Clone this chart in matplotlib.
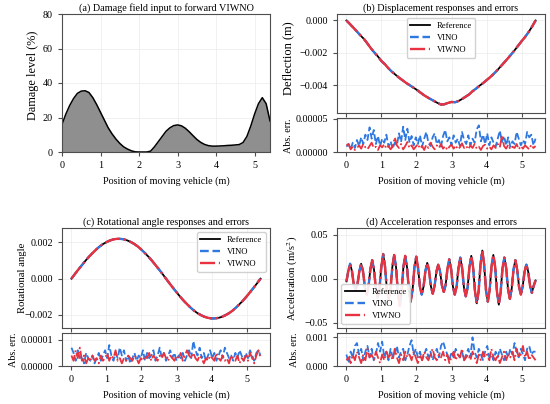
import numpy as np
import matplotlib
matplotlib.use("Agg")
import matplotlib.pyplot as plt
from matplotlib.ticker import FuncFormatter

plt.rcParams['font.family'] = ['Liberation Serif', 'DejaVu Serif']
plt.rcParams['mathtext.fontset'] = 'stix'
plt.rcParams['font.size'] = 7.3
plt.rcParams['axes.titlesize'] = 7.3
plt.rcParams['axes.edgecolor'] = '#4d4d4d'
plt.rcParams['xtick.color'] = '#4d4d4d'
plt.rcParams['ytick.color'] = '#4d4d4d'
plt.rcParams['xtick.labelcolor'] = 'black'
plt.rcParams['ytick.labelcolor'] = 'black'
plt.rcParams['xtick.major.size'] = 3
plt.rcParams['ytick.major.size'] = 3

# ---------------- data ----------------
# (a) damage field, x step 0.1 m from 0 to 5.4
damage_pos = [round(0.1 * i, 1) for i in range(55)]
damage_level = [16, 22, 27, 31, 34, 35.3, 35.5, 34.5, 31.5, 27.5, 23, 18.5, 14, 10.5, 7.5, 5, 3, 1.7, 0.7, 0.1,
                0, 0, 0, 0.5, 3, 6, 9, 12, 14, 15.3, 15.7, 15.2, 13.8, 11.8, 9.5, 7.3, 5.6, 4.4, 3.7, 3.4,
                3.4, 3.5, 3.6, 3.8, 3.9, 4.1, 4.3, 5.5, 9, 15, 22, 28, 31.5, 28, 18]

# (b) deflection (mm -> m), x step 0.1 m
resp_pos = [round(0.1 * i, 1) for i in range(55)]
defl_ref_mm = [0, -0.22, -0.45, -0.68, -0.92, -1.14, -1.42, -1.72, -1.98, -2.22, -2.50, -2.70, -2.95, -3.16,
               -3.34, -3.52, -3.68, -3.84, -3.98, -4.12, -4.26, -4.42, -4.58, -4.72, -4.84, -4.96, -5.08,
               -5.18, -5.16, -5.08, -5.02, -5.04, -4.96, -4.84, -4.70, -4.56, -4.36, -4.20, -4.02, -3.86,
               -3.68, -3.50, -3.30, -3.08, -2.84, -2.60, -2.36, -2.10, -1.84, -1.56, -1.28, -1.02, -0.72,
               -0.38, 0.0]
defl_vino_mm = defl_ref_mm
defl_viwno_mm = defl_ref_mm

# (c) rotational angle (x1e-3)
rot_ref_m = [0, 0.26, 0.51, 0.75, 0.99, 1.21, 1.41, 1.60, 1.77, 1.91, 2.02, 2.11, 2.17, 2.20,
             2.20, 2.17, 2.11, 2.02, 1.91, 1.77, 1.60, 1.41, 1.21, 0.99, 0.75, 0.51, 0.26, 0.0,
             -0.26, -0.51, -0.75, -0.99, -1.21, -1.41, -1.60, -1.77, -1.91, -2.02, -2.11, -2.17, -2.20,
             -2.20, -2.17, -2.11, -2.02, -1.91, -1.77, -1.60, -1.41, -1.21, -0.99, -0.75, -0.51, -0.26, 0.0]
rot_vino_m = rot_ref_m
rot_viwno_m = rot_ref_m

# (d) acceleration (m/s^2), 104 samples over 0..5.4 m
acc_ref = [-0.003, 0.0085,
           0.017, 0.0085, -0.0065, -0.013, -0.0065, 0.0085,
           0.017, 0.0085, -0.009, -0.018, -0.009, 0.0105,
           0.021, 0.0105, -0.0105, -0.021, -0.0105, 0.014,
           0.028, 0.014, -0.012, -0.024, -0.012, 0.0135,
           0.027, 0.0135, -0.0155, -0.031, -0.0155, 0.013,
           0.026, 0.013, -0.013, -0.026, -0.013, 0.0125,
           0.025, 0.0125, -0.009, -0.018, -0.009, 0.009,
           0.018, 0.009, -0.0085, -0.017, -0.0085, 0.008,
           0.016, 0.008, -0.0075, -0.015, -0.0075, 0.011,
           0.022, 0.011, -0.009, -0.018, -0.009, 0.012,
           0.024, 0.012, -0.010, -0.020, -0.010, 0.013,
           0.026, 0.013, -0.014, -0.028, -0.014, 0.016,
           0.032, 0.016, -0.013, -0.026, -0.013, 0.0135,
           0.027, 0.0135, -0.015, -0.0295, -0.015, 0.012,
           0.024, 0.012, -0.0115, -0.023, -0.0115, 0.0105,
           0.021, 0.0105, -0.009, -0.018, -0.009, 0.008,
           0.016, 0.008, -0.008, -0.016, -0.008, -0.002]
acc_vino = acc_ref
acc_viwno = acc_ref

# absolute errors
defl_err_vino_um = [8, 12, 4, 14, 6, 18, 9, 22, 12, 26, 18, 37, 20, 33, 12, 24, 9, 20, 14, 26, 8, 16, 5, 14, 10,
                    28, 15, 38, 18, 35, 14, 24, 10, 22, 12, 25, 8, 20, 30, 14, 9, 22, 28, 12, 18, 8, 24, 33, 16,
                    22, 10, 25, 14, 20, 9, 30, 18, 12, 25, 10, 20, 14, 34, 40, 16, 26, 12, 28, 10, 22, 14, 8, 20,
                    32, 15, 24, 10, 22, 8, 16, 12, 30, 20, 10, 18, 12, 30, 22, 26, 10, 20]
defl_err_viwno_um = [10, 12, 4, 8, 3, 6, 10, 5, 12, 7, 4, 9, 14, 6, 8, 3, 10, 7, 12, 5, 9, 4, 8, 22, 10, 6, 12, 4,
                     9, 15, 6, 10, 4, 8, 12, 5, 9, 3, 11, 6, 14, 8, 4, 10, 6, 12, 5, 9, 3, 8, 11, 5, 10, 4, 7, 13,
                     6, 9, 4, 10, 6, 12, 5, 8, 3, 9, 11, 5, 8, 4, 10, 6, 12, 7, 25, 9, 5, 11, 4, 8, 6, 12, 4, 9, 5,
                     10, 7, 4, 11, 6, 9]
rot_err_vino_u = [7, 5, 2, 6, 3, 4, 1, 5, 3, 2, 4, 1, 3, 5, 2, 4, 6, 3, 8, 4, 2, 5, 3, 7, 4, 6, 2, 4, 1, 3, 5, 2,
                  4, 3, 6, 2, 5, 3, 4, 6, 2, 4, 7, 3, 5, 2, 4, 6, 3, 5, 2, 4, 3, 5, 2, 4, 6, 3, 9.5, 6, 4, 7, 3,
                  5, 2, 4, 6, 3, 5, 2, 4, 6, 3, 7, 5, 3, 4, 2, 5, 3, 6, 4, 2, 5, 3, 6, 4, 2, 5, 6, 4]
rot_err_viwno_u = [4, 2, 6, 3, 7, 2, 4, 1, 3, 2, 4, 2, 3, 1, 4, 2, 3, 5, 2, 4, 3, 6, 2, 3, 1, 3, 2, 4, 3, 2, 4, 3,
                   1, 3, 2, 4, 3, 5, 2, 4, 3, 2, 4, 3, 5, 3, 2, 4, 3, 2, 4, 3, 5, 2, 4, 6, 4, 3, 5, 3, 2, 4, 3, 1,
                   3, 2, 4, 3, 2, 5, 3, 2, 4, 2, 3, 1, 4, 3, 2, 4, 1, 3, 2, 4, 2, 5, 3, 1, 4, 6, 3]
acc_err_vino_e4 = [4, 1, 5, 3, 7, 8, 4, 6, 2, 5, 7, 3, 6, 2, 4, 8, 5, 8.5, 3, 5, 2, 6, 3, 4, 7, 3, 5, 6, 2, 4, 7, 9,
                   4, 6, 3, 5, 2, 4, 6, 3, 5, 2, 4, 6, 3, 7, 8.5, 6, 4, 2, 5, 3, 6, 4, 3, 5, 2, 4, 6, 3, 10, 5, 3,
                   6, 4, 2, 5, 7, 3, 4, 2, 5, 3, 6, 4, 2, 5, 3, 6, 4, 8, 5, 3, 6, 4, 2, 6, 7, 4, 5, 5]
acc_err_viwno_e4 = [2, 3, 1, 4, 2, 5, 3, 1, 4, 2, 6, 3, 4, 2, 5, 3, 1, 4, 2, 5, 3, 4, 2, 6, 3, 1, 4, 2, 5, 3, 4, 2,
                    5, 3, 1, 4, 2, 5, 3, 2, 4, 6, 3, 2, 4, 3, 5, 2, 4, 1, 3, 5, 2, 4, 3, 6, 2, 3, 4, 2, 5, 3, 1, 4,
                    2, 5, 3, 4, 2, 6, 3, 2, 4, 1, 3, 5, 2, 4, 3, 5, 2, 6, 3, 4, 7, 3, 5, 2, 4, 3, 2]

xticks = [0, 1, 2, 3, 4, 5]
labels_legend = ['Reference', 'VINO', 'VIWNO']

# ---------------- styling ----------------
C_REF = 'black'
C_VINO = '#2f78e0'
C_VIWNO = '#e8323f'
GRID = dict(color='#ececec', lw=0.5)


def fmt(nd):
    return FuncFormatter(lambda v, p: (f"{v:.{nd}f}").replace('-', '\u2212') if abs(v) > 1e-12 else f"{0:.{nd}f}")


W, H = 550, 404
fig = plt.figure(figsize=(W / 100, H / 100), dpi=100)


def ax_px(l, t, r, b):
    return fig.add_axes([l / W, 1 - b / H, (r - l) / W, (b - t) / H])


# (a)
axa = ax_px(62, 14, 270, 152)
axa.fill_between(damage_pos, damage_level, 0, color='#8f8f8f', lw=0)
axa.plot(damage_pos, damage_level, color='black', lw=1.1)
axa.set_xlim(0, 5.4)
axa.set_ylim(0, 80)
axa.set_xticks(xticks)
axa.set_yticks([0, 20, 40, 60, 80])
axa.grid(True, **GRID)
axa.set_axisbelow(True)
axa.set_ylabel('Damage level (%)', fontsize=8.8)
axa.yaxis.set_label_coords(-0.11, 0.553)
axa.set_xlabel('Position of moving vehicle (m)')
axa.set_title('(a) Damage field input to forward VIWNO', pad=2)


def resp_panel(l, r, t, b, te, be, x, ref, vino, viwno, ex_v, ey_v, ex_w, ey_w,
               ylim, yticks, ynd, elim, eticks, end, ylabel, ylsize, ylc, elc, title, legloc):
    ax = ax_px(l, t, r, b)
    ae = ax_px(l, te, r, be)
    ax.plot(x, ref, color=C_REF, lw=1.3, label=labels_legend[0])
    ax.plot(x, vino, color=C_VINO, lw=1.7, ls='--', label=labels_legend[1])
    ax.plot(x, viwno, color=C_VIWNO, lw=1.7, ls='-.', label=labels_legend[2])
    ax.set_ylim(*ylim)
    ax.set_yticks(yticks)
    ax.yaxis.set_major_formatter(fmt(ynd))
    ax.set_xlim(-0.27, 5.67)
    ax.set_xticks(xticks)
    ax.tick_params(labelbottom=False)
    ax.grid(True, **GRID)
    ax.set_ylabel(ylabel, fontsize=ylsize)
    ax.yaxis.set_label_coords(*ylc)
    ax.set_title(title, pad=2)
    ax.legend(loc=legloc, fontsize=6.2, handlelength=2.3, framealpha=0.9,
              edgecolor='#cccccc', fancybox=True)

    ae.plot(ex_v, ey_v, color=C_VINO, lw=1.3, ls='--')
    ae.plot(ex_w, ey_w, color=C_VIWNO, lw=1.3, ls='-.')
    ae.set_xlim(-0.27, 5.67)
    ae.set_xticks(xticks)
    ae.set_ylim(*elim)
    ae.set_yticks(eticks)
    ae.yaxis.set_major_formatter(fmt(end))
    ae.grid(True, **GRID)
    ae.set_ylabel('Abs. err.')
    ae.yaxis.set_label_coords(*elc)
    ae.set_xlabel('Position of moving vehicle (m)')
    return ax, ae


def grid_x(vals):
    return np.linspace(0, 5.4, len(vals))


# (b)
resp_panel(337, 545, 14, 113, 118, 152, resp_pos, np.array(defl_ref_mm) * 1e-3,
           np.array(defl_vino_mm) * 1e-3, np.array(defl_viwno_mm) * 1e-3,
           grid_x(defl_err_vino_um), np.array(defl_err_vino_um) * 1e-6,
           grid_x(defl_err_viwno_um), np.array(defl_err_viwno_um) * 1e-6,
           (-0.0057, 0.0004), [-0.004, -0.002, 0.0], 3, (0, 5.1e-5), [0, 5e-5], 5,
           'Deflection (m)', 9.0, (-0.205, 0.558), (-0.21, 0.476),
           '(b) Displacement responses and errors', 'upper center')

# (c)
resp_panel(62, 270, 228, 328, 333, 366, resp_pos, np.array(rot_ref_m) * 1e-3,
           np.array(rot_vino_m) * 1e-3, np.array(rot_viwno_m) * 1e-3,
           grid_x(rot_err_vino_u), np.array(rot_err_vino_u) * 1e-6,
           grid_x(rot_err_viwno_u), np.array(rot_err_viwno_u) * 1e-6,
           (-0.00273, 0.0028), [-0.002, 0.0, 0.002], 3, (0, 1.26e-5), [0, 1e-5], 5,
           'Rotational angle', 7.7, (-0.17, 0.5), (-0.21, 0.485),
           '(c) Rotational angle responses and errors', 'upper right')

# (d)
resp_panel(337, 545, 228, 328, 333, 366, grid_x(acc_ref), acc_ref, acc_vino, acc_viwno,
           grid_x(acc_err_vino_e4), np.array(acc_err_vino_e4) * 1e-4,
           grid_x(acc_err_viwno_e4), np.array(acc_err_viwno_e4) * 1e-4,
           (-0.056, 0.0576), [-0.05, 0.0, 0.05], 2, (0, 0.00115), [0, 0.001], 3,
           'Acceleration (m/s$^2$)', 7.7, (-0.178, 0.497), (-0.183, 0.485),
           '(d) Acceleration responses and errors', 'lower left')

fig.savefig('out.png', dpi=100)
